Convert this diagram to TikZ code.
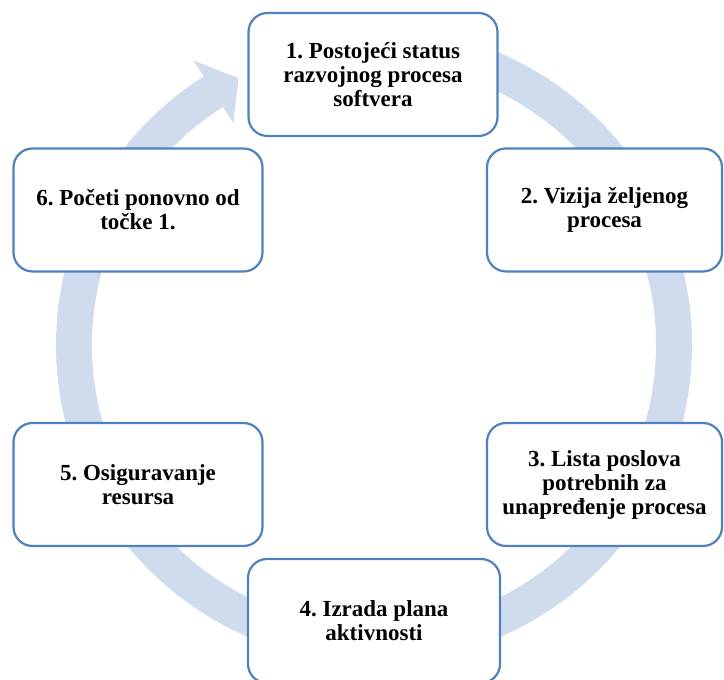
\documentclass[tikz,border=0pt]{standalone}
\usepackage{fontspec}
\setmainfont{Liberation Serif}
\definecolor{boxblue}{RGB}{79,129,189}
\definecolor{ringblue}{RGB}{208,220,238}
\begin{document}
\frenchspacing
\begin{tikzpicture}[x=1pt,y=1pt,
  stepbox/.style={draw=boxblue, line width=2.2pt, fill=white, rounded corners=19pt,
    minimum width=249pt, minimum height=123pt, align=center, inner sep=0pt,
    font=\fontsize{23}{24}\selectfont\bfseries\frenchspacing}]
\path[use as bounding box] (0,0) rectangle (724,680);
\clip (0,0) rectangle (724,680);
\coordinate (c) at (374,335);
% circular arrow in the background
\fill[ringblue] ([shift={(108:318pt)}]c)
   arc[start angle=108, end angle=-237.6, radius=318pt]
   -- ([shift={(122.4:337pt)}]c)
   -- ([shift={(116.9:299pt)}]c)
   -- ([shift={(122.4:263pt)}]c)
   -- ([shift={(122.4:282pt)}]c)
   arc[start angle=122.4, end angle=468, radius=282pt]
   -- cycle;
% steps
\node[stepbox] (s1) at (373,605.5) {1. Postojeći status\\razvojnog procesa\\softvera};
\node[stepbox, minimum width=235pt] (s2) at (604.5,470) {2. Vizija željenog\\procesa};
\node[stepbox, minimum width=235pt] (s3) at (604.5,195.5) {3. Lista poslova\\potrebnih za\\unapređenje procesa};
\node[stepbox, minimum width=252pt, minimum height=124pt] (s4) at (374,59) {4. Izrada plana\\aktivnosti};
\node[stepbox] (s5) at (138,195.5) {5. Osiguravanje\\resursa};
\node[stepbox] (s6) at (138,470) {6. Početi ponovno od\\točke 1.};
\end{tikzpicture}
\end{document}
